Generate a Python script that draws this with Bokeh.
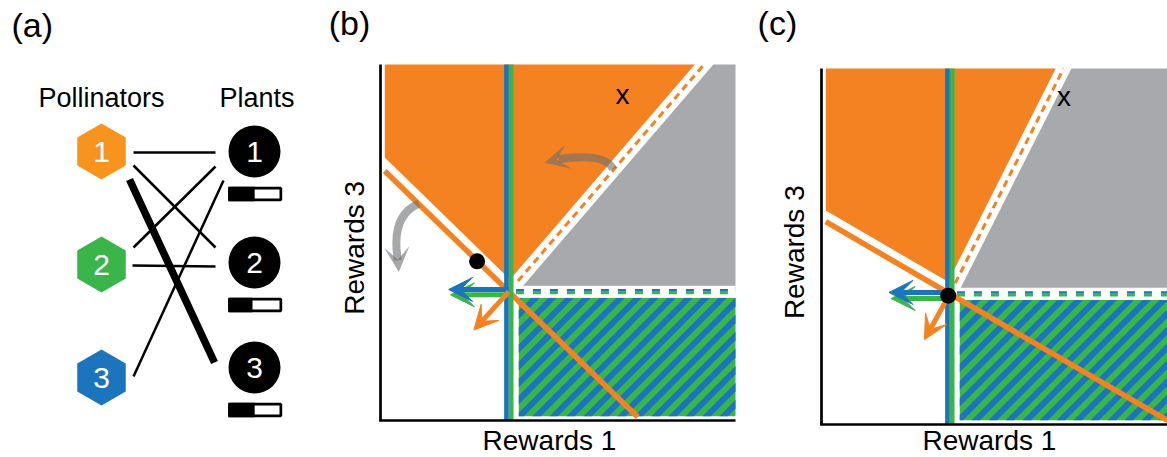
import numpy as np
from bokeh.plotting import figure
from bokeh.layouts import row
from bokeh.models import Range1d, Arrow, VeeHead
from bokeh.embed import file_html
from bokeh.resources import INLINE
from bokeh.core.properties import value

FONT = "Liberation Sans"
ORANGE = "#f58220"
ORANGE_NODE = "#f7941d"
GREEN = "#39b54a"
BLUE = "#1c75bc"
GRAY = "#a7a9ac"
SHADOW = "#6d6e71"
H = 457

# ---------------- (a) network data ----------------
pollinator_ids = ["1", "2", "3"]
pollinator_colors = [ORANGE_NODE, GREEN, BLUE]
plant_ids = ["1", "2", "3"]
link_pollinator = [1, 1, 1, 2, 2, 3]
link_plant = [1, 2, 3, 1, 2, 1]
link_weight = [1, 1, 3, 1, 1, 1]
plant_reward_share = [0.49, 0.45, 0.49]

# layout of (a) (panel units)
pollinator_x = 101
pollinator_y = [151, 264, 377]
plant_x = 254
plant_y = [151, 262, 367]
link_start_dx = [32, 32, 28, 32, 31, 32]
link_start_dy = [1, 14, 28, -17, 1, -1]
link_end_dx = [-39, -39, -40, -39, -39, -31]
link_end_dy = [1, -15, -5, 15, 4, 29]

# ---------------- (b) reward space (Rewards 1 / Rewards 3 units) ----------------
b_equilibrium = [3.615, 3.62]
b_solid_slope = -0.97
b_dashed_slope = 1.16
b_dot = [2.72, 4.47]
b_arrow_y = [3.68, 3.53]        # blue, green
b_arrow_tip_x = [1.92, 1.97]    # blue, green
b_orange_tip = [2.63, 2.54]
b_x_mark = [6.82, 9.16]
b_curve_start = [[6.55, 7.06], [1.08, 6.09]]
b_curve_ctrl = [[6.34, 7.53], [0.28, 5.76]]
b_curve_end = [[5.01, 7.34], [0.49, 4.50]]
b_curve_tip = [[4.62, 7.24], [0.515, 4.17]]

# ---------------- (c) reward space ----------------
c_equilibrium = [3.615, 3.67]
c_solid_slope = -0.58
c_dashed_slope = 1.975
c_dot = [3.57, 3.62]
c_arrow_y = [3.71, 3.54]
c_arrow_tip_x = [1.90, 1.96]
c_orange_tip = [2.90, 2.38]
c_x_mark = [6.83, 9.20]


def clip_x(poly, xmin, xmax):
    def clip(poly, inside, cut):
        out = []
        for i in range(len(poly)):
            cur, prev = poly[i], poly[i - 1]
            if inside(cur):
                if not inside(prev):
                    out.append(cut(prev, cur))
                out.append(cur)
            elif inside(prev):
                out.append(cut(prev, cur))
        return out

    def at(a, b, xv):
        t = (xv - a[0]) / (b[0] - a[0])
        return (xv, a[1] + t * (b[1] - a[1]))

    poly = clip(poly, lambda q: q[0] >= xmin, lambda a, b: at(a, b, xmin))
    if poly:
        poly = clip(poly, lambda q: q[0] <= xmax, lambda a, b: at(a, b, xmax))
    return poly


def stripes(x0, x1, y0, y1, period, width):
    xs, ys = [], []
    c = x0 - (y1 - y0) - width
    while c < x1:
        band = [(c + y0, y0), (c + width + y0, y0), (c + width + y1, y1), (c + y1, y1)]
        poly = clip_x(band, x0, x1)
        if len(poly) >= 3:
            xs.append([q[0] for q in poly])
            ys.append([q[1] for q in poly])
        c += period
    return xs, ys


def txt(p, x, y, s, size, align="center", angle=0.0, color="black"):
    p.text(x=[x], y=[y], text=[s], angle=angle, text_font=value(FONT),
           text_font_size=size, text_align=align, text_baseline="middle",
           text_color=color)


def network_panel():
    p = figure(width=320, height=H, x_range=Range1d(0, 320), y_range=Range1d(H, 0),
               output_backend="svg", toolbar_location=None, min_border=0,
               x_axis_type=None, y_axis_type=None)
    p.grid.visible = False
    p.outline_line_color = None
    x0 = [pollinator_x + dx for dx in link_start_dx]
    y0 = [pollinator_y[i - 1] + dy for i, dy in zip(link_pollinator, link_start_dy)]
    x1 = [plant_x + dx for dx in link_end_dx]
    y1 = [plant_y[j - 1] + dy for j, dy in zip(link_plant, link_end_dy)]
    p.segment(x0=x0, y0=y0, x1=x1, y1=y1, line_color="black",
              line_width=[2.5 * w for w in link_weight])
    p.scatter(x=[pollinator_x] * 3, y=pollinator_y, marker="hex", size=56, angle=np.pi / 2,
              fill_color=pollinator_colors, line_color=None)
    p.scatter(x=[plant_x] * 3, y=plant_y, marker="circle", size=52, fill_color="black",
              line_color=None)
    p.text(x=[pollinator_x] * 3, y=pollinator_y, text=pollinator_ids, text_color="white",
           text_font=value(FONT), text_font_size="30px", text_align="center",
           text_baseline="middle")
    p.text(x=[plant_x] * 3, y=plant_y, text=plant_ids, text_color="white",
           text_font=value(FONT), text_font_size="30px", text_align="center",
           text_baseline="middle")
    bar_y = [y + 42.5 for y in plant_y]
    p.rect(x=[254.7] * 3, y=bar_y, width=54 - 2.7, height=14.3 - 2.7, fill_color="white",
           line_color="black", line_width=2.7)
    p.quad(left=[227.7] * 3, right=[227.7 + 54 * s for s in plant_reward_share],
           top=[y - 7.15 for y in bar_y], bottom=[y + 7.15 for y in bar_y],
           fill_color="black", line_color=None)
    txt(p, 101, 97.5, "Pollinators", "27px")
    txt(p, 256.5, 97.5, "Plants", "27px")
    txt(p, 11, 24.5, "(a)", "34px", align="left")
    return p


def reward_panel(width, origin, scale, x_end, eq, m_solid, m_dashed, dot, arrow_y,
                 arrow_tip_x, orange_tip, x_mark, tag, tag_xy, ylab_xy, xlab_xy, curves=None):
    ox, oy = origin          # axis origin inside the panel, in screen pixels from top-left
    sx, sy = scale           # pixels per reward unit
    ux, uy = 1 / sx, 1 / sy
    x_max = (width - ox) / sx
    if x_end is None:
        x_end = x_max
    p = figure(width=width, height=H, x_range=Range1d(-ox / sx, x_max),
               y_range=Range1d(-(H - oy) / sy, oy / sy),
               output_backend="svg", toolbar_location=None, min_border=0,
               x_axis_type=None, y_axis_type=None)
    p.grid.visible = False
    p.outline_line_color = None

    ex, ey = eq
    x_left = 0.12
    off = 0.27 * np.hypot(1, m_solid)
    x_diag_top = ex + (10 - ey) / m_dashed

    # orange region
    p.patch([x_left, x_diag_top, ex, ex, x_left],
            [10, 10, ey, ey + off, ey + off + m_solid * (x_left - ex)],
            fill_color=ORANGE, line_color=None)
    # grey region
    p.patch([ex, x_diag_top, x_end, x_end], [ey, 10, 10, ey], fill_color=GRAY, line_color=None)
    # hatched blue / green region
    hx0, hx1, hy0, hy1 = ex + 0.28, x_end, 0.12, ey - 0.17
    p.quad(left=[hx0], right=[hx1], bottom=[hy0], top=[hy1], fill_color=GREEN,
           line_color=None)
    sxs, sys_ = stripes(hx0, hx1, hy0, hy1, 17 * ux, 8.5 * ux)
    p.patches(sxs, sys_, fill_color=BLUE, line_color=None)
    # white separating bands
    p.line([ex, ex + (10 - ey) / m_dashed + 0.3], [ey, 10 + 0.3 * m_dashed],
           line_color="white", line_width=14)
    p.line([ex, x_end], [ey, ey], line_color="white", line_width=12)
    # dashed isoclines
    p.line([ex + 0.3 / m_dashed, x_diag_top], [ey + 0.3, 10], line_color=ORANGE,
           line_width=3, line_dash="7 5")
    for col, s in ((BLUE, 1), (GREEN, -1)):
        p.line([ex + 0.2, x_end], [ey + s * 1.35 * uy] * 2, line_color=col, line_width=2.7,
               line_dash="8 9")
    # solid orange isocline
    x_solid_end = min(ex + (0.1 - ey) / m_solid, x_end)
    p.line([x_left, x_solid_end], [ey + m_solid * (x_left - ex), ey + m_solid * (x_solid_end - ex)],
           line_color=ORANGE, line_width=5.5)
    # blue / green isocline
    p.segment(x0=[ex - 2.35 * ux, ex + 2.35 * ux], y0=[0, 0],
              x1=[ex - 2.35 * ux, ex + 2.35 * ux], y1=[10, 10],
              line_color=[BLUE, GREEN], line_width=4.7)
    # axes
    p.segment(x0=[0, -1.35 * ux], y0=[0, 0], x1=[0, x_end], y1=[10, 0],
              line_color="black", line_width=2.7)

    # grey curved arrows
    if curves:
        for (csx, csy), (ccx, ccy), (cqx, cqy), (ctx, cty) in zip(*curves):
            p.quadratic(x0=[csx], y0=[csy], x1=[cqx], y1=[cqy], cx=[ccx], cy=[ccy],
                        line_color=SHADOW, line_alpha=0.6, line_width=8)
            p.add_layout(Arrow(end=VeeHead(size=25, fill_color=SHADOW, fill_alpha=0.6,
                                           line_color=None),
                               x_start=cqx, y_start=cqy, x_end=ctx, y_end=cty, line_color=None))

    # texts
    txt(p, x_mark[0], x_mark[1], "x", "28px")
    txt(p, tag_xy[0], tag_xy[1], tag, "34px", align="left")
    txt(p, ylab_xy[0], ylab_xy[1], "Rewards 3", "28px", angle=np.pi / 2)
    txt(p, xlab_xy[0], xlab_xy[1], "Rewards 1", "28px")

    # direction arrows at the equilibrium
    for col, yy, tx in ((GREEN, arrow_y[1], arrow_tip_x[1]), (BLUE, arrow_y[0], arrow_tip_x[0])):
        p.add_layout(Arrow(end=VeeHead(size=24, fill_color=col, line_color=col, line_width=1),
                           x_start=ex, y_start=yy, x_end=tx, y_end=yy,
                           line_color=col, line_width=5))
    p.add_layout(Arrow(end=VeeHead(size=24, fill_color=ORANGE, line_color=ORANGE, line_width=1),
                       x_start=ex, y_start=ey, x_end=orange_tip[0], y_end=orange_tip[1],
                       line_color=ORANGE, line_width=5))

    r = p.scatter([dot[0]], [dot[1]], size=16, fill_color="black", line_color=None)
    r.level = "overlay"
    return p


pa = network_panel()
pb = reward_panel(430, (60, 420), (35.5, 35.6), 10, b_equilibrium, b_solid_slope,
                  b_dashed_slope, b_dot, b_arrow_y, b_arrow_tip_x, b_orange_tip, b_x_mark,
                  "(b)", (-1.46, 11.17), (-0.73, 4.85), (4.76, -0.55),
                  curves=(b_curve_start, b_curve_ctrl, b_curve_end, b_curve_tip))
pc = reward_panel(417, (71, 424), (35.5, 35.6), None, c_equilibrium, c_solid_slope,
                  c_dashed_slope, c_dot, c_arrow_y, c_arrow_tip_x, c_orange_tip, c_x_mark,
                  "(c)", (-1.80, 11.27), (-0.76, 4.84), (4.73, -0.45))

layout = row(pa, pb, pc)
open("out.html", "w").write(file_html(layout, INLINE))
